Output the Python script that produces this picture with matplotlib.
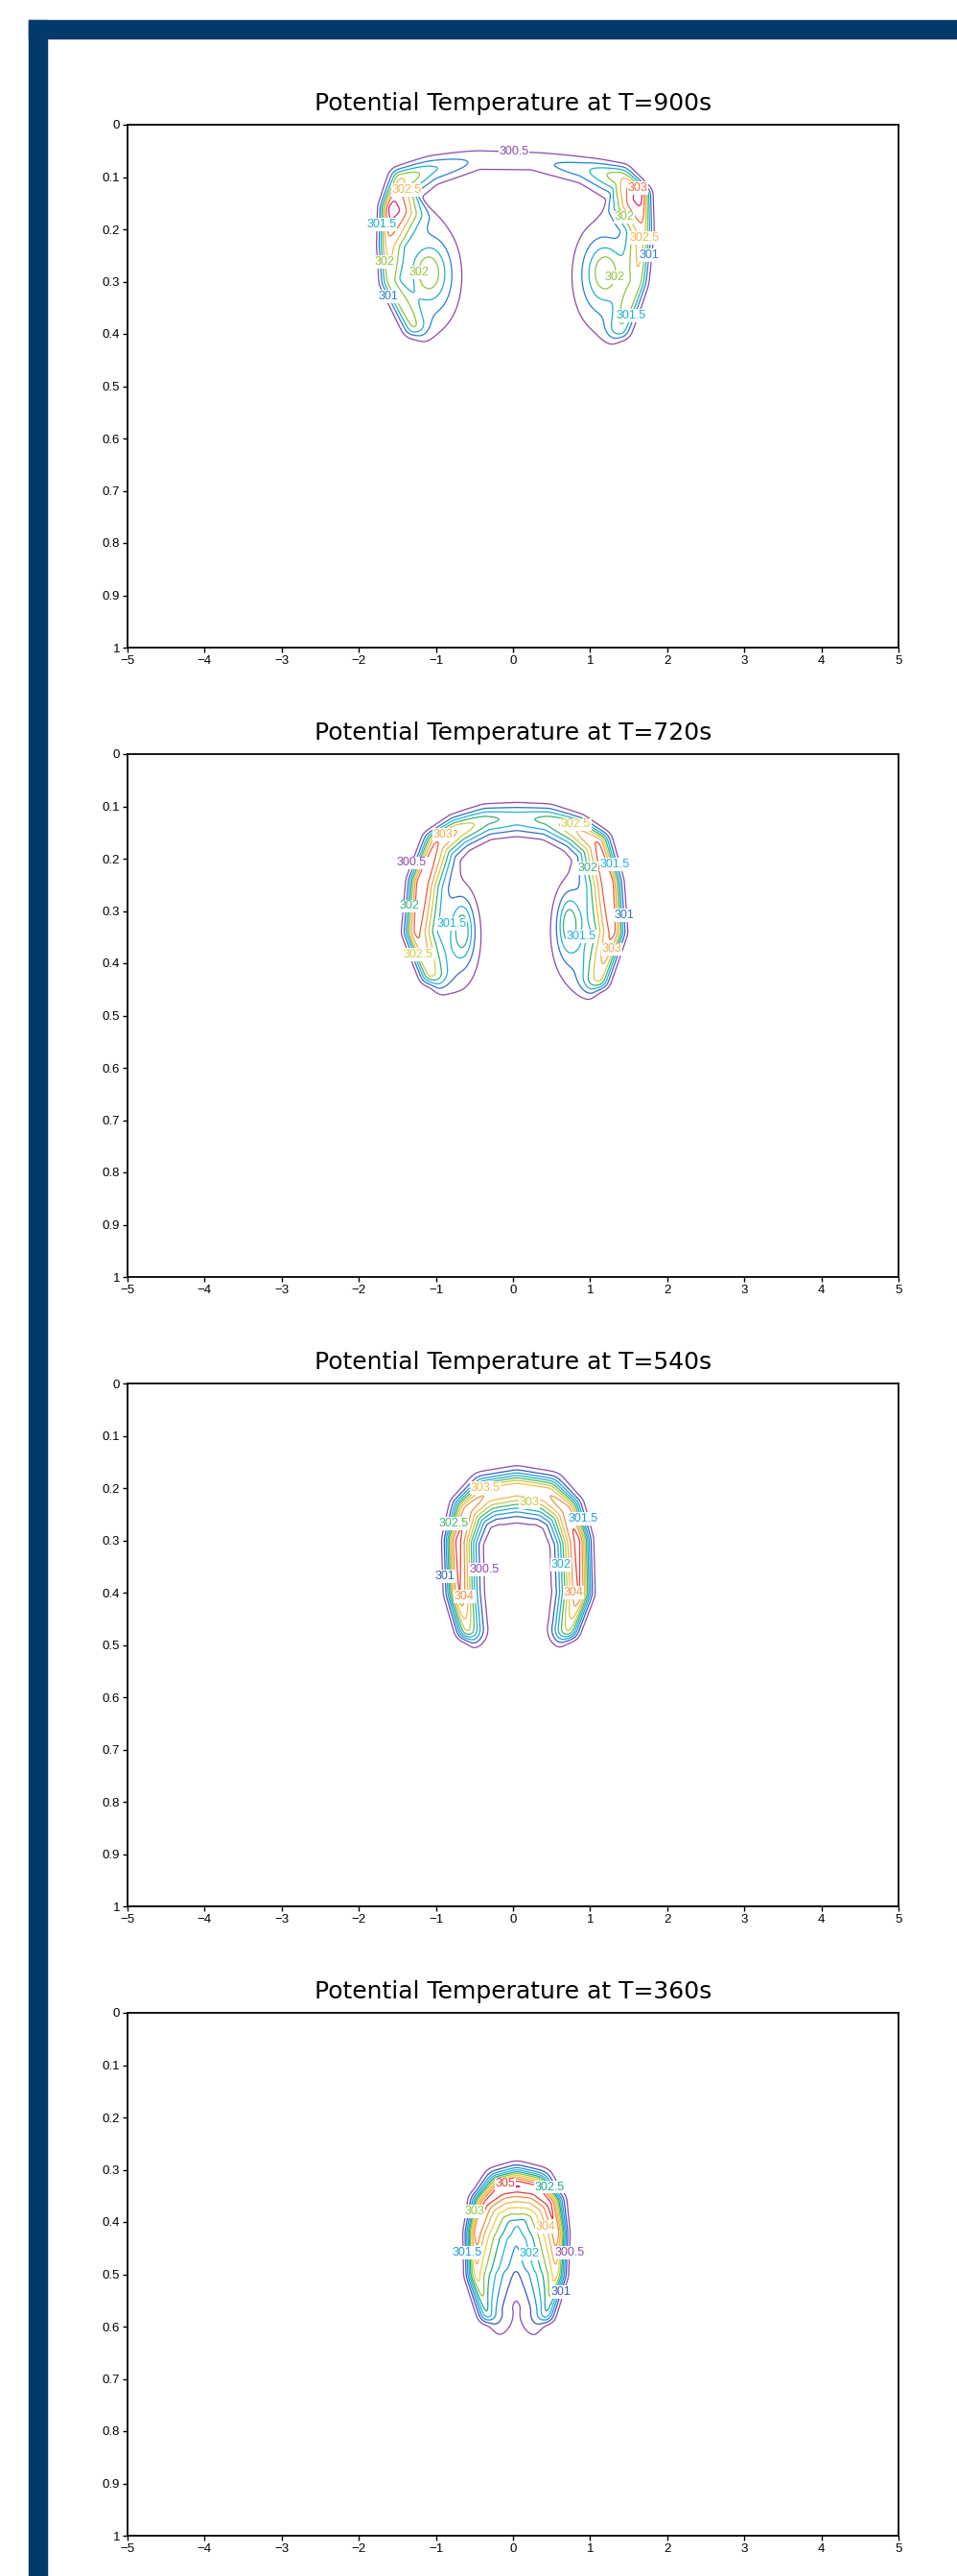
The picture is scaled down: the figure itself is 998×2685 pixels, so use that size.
import numpy as np
import matplotlib
matplotlib.use("Agg")
import matplotlib.pyplot as plt
from matplotlib.colors import LinearSegmentedColormap
from matplotlib.patches import Rectangle
from matplotlib.ticker import FormatStrFormatter

# Constants
W, H = 998, 2685
KY = 545 / 80.4          # one y unit spans as many pixels as KY x units
THETA_BASE = 300.0
FRAME_BLUE = "#04396c"
LINE_COLORS = ['#9048a8', '#3657c0', '#1e96e0', '#22b4dc', '#18a88c', '#8cc43c',
               '#f0cc44', '#f0b050', '#f08c3c', '#e8383a', '#e0207a']

TIMES = [900, 720, 540, 360]
P_INNER = [2, 2, 2, 1]   # decay shape on the inner side of the plume

# T = 900 s : ridge of warm air along the plume, then rotor blobs
t900_ridge_x = [-1.3, -1.6, -1.62, -1.58, -1.45, -1.05, -0.45, 0.25, 0.9, 1.4, 1.64, 1.68, 1.62, 1.4]
t900_ridge_y = [0.385, 0.30, 0.23, 0.16, 0.105, 0.085, 0.068, 0.07, 0.085, 0.1, 0.135, 0.2, 0.30, 0.39]
t900_ridge_amp = [1.7, 2.1, 2.7, 3.85, 2.6, 1.6, 0.85, 0.8, 1.3, 2.4, 3.85, 2.8, 2.1, 1.6]
t900_ridge_wout = [0.12, 0.11, 0.11, 0.12, 0.14, 0.16, 0.17, 0.17, 0.16, 0.14, 0.12, 0.11, 0.11, 0.12]
t900_ridge_win = [0.18, 0.15, 0.22, 0.4, 0.25, 0.18, 0.16, 0.16, 0.18, 0.25, 0.4, 0.22, 0.15, 0.18]
t900_blob_x = [-1.12, -1.05, 1.22, 1.15]
t900_blob_y = [0.28, 0.29, 0.28, 0.29]
t900_blob_sx = [0.2, 0.36, 0.2, 0.36]
t900_blob_sy = [0.045, 0.1, 0.045, 0.1]
t900_blob_amp = [1.0, 1.55, 1.0, 1.55]
t900_levels = [300.5, 301, 301.5, 302, 302.5, 303, 303.5]

# T = 720 s
t720_ridge_x = [-1.08, -1.26, -1.2, -1.0, -0.72, -0.35, 0.05, 0.45, 0.82, 1.1, 1.25, 1.3, 1.12]
t720_ridge_y = [0.42, 0.34, 0.245, 0.17, 0.145, 0.126, 0.122, 0.126, 0.145, 0.17, 0.245, 0.34, 0.43]
t720_ridge_amp = [2.6, 3.7, 4.05, 3.6, 3.0, 2.2, 1.8, 2.2, 3.0, 3.6, 4.05, 3.7, 2.6]
t720_ridge_wout = [0.12, 0.13, 0.13, 0.14, 0.16, 0.17, 0.175, 0.17, 0.16, 0.14, 0.13, 0.13, 0.12]
t720_ridge_win = [0.22, 0.24, 0.26, 0.25, 0.22, 0.21, 0.21, 0.21, 0.22, 0.25, 0.26, 0.24, 0.22]
t720_blob_x = [-0.65, -0.7, 0.72, 0.77]
t720_blob_y = [0.335, 0.35, 0.325, 0.34]
t720_blob_sx = [0.12, 0.28, 0.12, 0.28]
t720_blob_sy = [0.05, 0.1, 0.05, 0.1]
t720_blob_amp = [1.3, 1.3, 1.3, 1.3]
t720_levels = [300.5, 301, 301.5, 302, 302.5, 303, 303.5, 304]

# T = 540 s
t540_ridge_x = [-0.6, -0.7, -0.72, -0.6, -0.35, 0.05, 0.45, 0.7, 0.84, 0.86, 0.72]
t540_ridge_y = [0.47, 0.40, 0.30, 0.24, 0.21, 0.20, 0.21, 0.24, 0.30, 0.40, 0.47]
t540_ridge_amp = [3.2, 4.6, 4.75, 4.3, 4.0, 3.9, 4.0, 4.3, 4.75, 4.6, 3.2]
t540_ridge_wout = [0.12, 0.135, 0.135, 0.16, 0.2, 0.2, 0.2, 0.16, 0.135, 0.135, 0.12]
t540_ridge_win = [0.2, 0.22, 0.22, 0.26, 0.3, 0.31, 0.3, 0.26, 0.24, 0.24, 0.2]
t540_blob_x, t540_blob_y, t540_blob_sx, t540_blob_sy, t540_blob_amp = [], [], [], [], []
t540_levels = [300.5, 301, 301.5, 302, 302.5, 303, 303.5, 304, 304.5, 305]

# T = 360 s
t360_ridge_x = [-0.33, -0.47, -0.47, -0.36, -0.15, 0.05, 0.28, 0.47, 0.56, 0.55, 0.42]
t360_ridge_y = [0.575, 0.5, 0.42, 0.365, 0.338, 0.332, 0.338, 0.365, 0.42, 0.5, 0.575]
t360_ridge_amp = [2.6, 3.9, 5.05, 5.3, 5.55, 5.65, 5.55, 5.3, 5.1, 3.9, 2.6]
t360_ridge_wout = [0.11, 0.115, 0.115, 0.15, 0.2, 0.21, 0.2, 0.15, 0.115, 0.115, 0.11]
t360_ridge_win = [0.2, 0.4, 0.45, 0.5, 0.56, 0.56, 0.56, 0.5, 0.45, 0.4, 0.2]
t360_blob_x, t360_blob_y, t360_blob_sx, t360_blob_sy, t360_blob_amp = [], [], [], [], []
t360_levels = [300.5, 301, 301.5, 302, 302.5, 303, 303.5, 304, 304.5, 305, 305.5]

GRID_X = np.linspace(-5, 5, 801)
GRID_Y = np.linspace(0, 1, 546)


def ridge_field(gx, gy, rx, ry, amp, w_out, w_in, p_in):
    """Warm anomaly decaying away from a ridge line (sharp outside, softer inside)."""
    X, Y = np.meshgrid(gx, gy * KY)
    rx = np.asarray(rx, float)
    ry = np.asarray(ry, float) * KY
    amp, w_out, w_in = (np.asarray(v, float) for v in (amp, w_out, w_in))
    best = np.full(X.shape, np.inf)
    a, wo, wi, side = (np.zeros(X.shape) for _ in range(4))
    for i in range(len(rx) - 1):
        dx, dy = rx[i + 1] - rx[i], ry[i + 1] - ry[i]
        seg = np.hypot(dx, dy)
        t = np.clip(((X - rx[i]) * dx + (Y - ry[i]) * dy) / seg ** 2, 0, 1)
        d = np.hypot(X - rx[i] - t * dx, Y - ry[i] - t * dy)
        m = d < best
        best[m] = d[m]
        a[m] = (amp[i] + t * (amp[i + 1] - amp[i]))[m]
        wo[m] = (w_out[i] + t * (w_out[i + 1] - w_out[i]))[m]
        wi[m] = (w_in[i] + t * (w_in[i + 1] - w_in[i]))[m]
        side[m] = ((dx * (Y - ry[i]) - dy * (X - rx[i])) / seg)[m]
    outer = 1.0 / (1.0 + np.exp(np.clip(side / 0.03, -50, 50)))
    prof = outer * np.exp(-(best / wo) ** 2) + (1 - outer) * np.exp(-(best / wi) ** p_in)
    return a * prof


def blob_field(gx, gy, bx, by, bsx, bsy, bamp):
    X, Y = np.meshgrid(gx, gy)
    f = np.zeros(X.shape)
    for x0, y0, sx, sy, a in zip(bx, by, bsx, bsy, bamp):
        f += a * np.exp(-((X - x0) / sx) ** 2 - ((Y - y0) / sy) ** 2)
    return f


def smooth(f, sigma=2.0):
    k = np.arange(-int(3 * sigma), int(3 * sigma) + 1)
    k = np.exp(-0.5 * (k / sigma) ** 2)
    k /= k.sum()
    f = np.apply_along_axis(lambda r: np.convolve(r, k, mode='same'), 1, f)
    return np.apply_along_axis(lambda c: np.convolve(c, k, mode='same'), 0, f)


PANELS = [
    (t900_ridge_x, t900_ridge_y, t900_ridge_amp, t900_ridge_wout, t900_ridge_win,
     t900_blob_x, t900_blob_y, t900_blob_sx, t900_blob_sy, t900_blob_amp, t900_levels),
    (t720_ridge_x, t720_ridge_y, t720_ridge_amp, t720_ridge_wout, t720_ridge_win,
     t720_blob_x, t720_blob_y, t720_blob_sx, t720_blob_sy, t720_blob_amp, t720_levels),
    (t540_ridge_x, t540_ridge_y, t540_ridge_amp, t540_ridge_wout, t540_ridge_win,
     t540_blob_x, t540_blob_y, t540_blob_sx, t540_blob_sy, t540_blob_amp, t540_levels),
    (t360_ridge_x, t360_ridge_y, t360_ridge_amp, t360_ridge_wout, t360_ridge_win,
     t360_blob_x, t360_blob_y, t360_blob_sx, t360_blob_sy, t360_blob_amp, t360_levels),
]

cmap = LinearSegmentedColormap.from_list("plume", LINE_COLORS)

fig = plt.figure(figsize=(W / 100, H / 100), dpi=100)
fig.patches.append(Rectangle((30 / W, 0), 19 / W, (H - 21) / H, transform=fig.transFigure,
                             color=FRAME_BLUE, zorder=0))
fig.patches.append(Rectangle((30 / W, (H - 40) / H), 1 - 30 / W, 19 / H, transform=fig.transFigure,
                             color=FRAME_BLUE, zorder=0))

all_labels = []
for i, (t, p_in, panel) in enumerate(zip(TIMES, P_INNER, PANELS)):
    rx, ry, ramp, rwo, rwi, bx, by, bsx, bsy, bamp, levels = panel
    top = 130 + 656 * i
    ax = fig.add_axes([133 / W, 1 - (top + 545) / H, 804 / W, 545 / H])
    theta = ridge_field(GRID_X, GRID_Y, rx, ry, ramp, rwo, rwi, p_in)
    theta += blob_field(GRID_X, GRID_Y, bx, by, bsx, bsy, bamp)
    theta = THETA_BASE + smooth(theta)
    colors = [cmap(v) for v in np.linspace(0, 1, len(levels))]
    cs = ax.contour(GRID_X, GRID_Y, theta, levels=levels, colors=colors, linewidths=0.9)
    labels = ax.clabel(cs, fmt='%g', fontsize=9, inline=False)
    for lab in labels:
        lab.set_rotation(0)
        lab.set_family('Liberation Sans')
        lab.set_bbox(dict(boxstyle='square,pad=0.05', fc='white', ec='none'))
    all_labels.extend(labels)

    ax.set_xlim(-5, 5)
    ax.set_ylim(1, 0)
    ax.set_xticks(range(-5, 6))
    ax.set_yticks(np.arange(0, 1.01, 0.1))
    ax.yaxis.set_major_formatter(FormatStrFormatter('%g'))
    ax.tick_params(direction='out', length=3.5, width=1, labelsize=9.5, pad=2)
    for lab in ax.get_xticklabels() + ax.get_yticklabels():
        lab.set_family('Liberation Sans')
    for sp in ax.spines.values():
        sp.set_linewidth(1.3)
    ax.set_title(f"Potential Temperature at T={t}s", fontsize=18, pad=11)

# drop automatically placed contour labels that would sit on top of each other
fig.canvas.draw()
renderer = fig.canvas.get_renderer()
kept = []
for lab in all_labels:
    box = lab.get_window_extent(renderer).expanded(1.05, 1.1)
    if any(box.overlaps(k) for k in kept):
        lab.remove()
    else:
        kept.append(box)

fig.savefig("out.png", dpi=100)
